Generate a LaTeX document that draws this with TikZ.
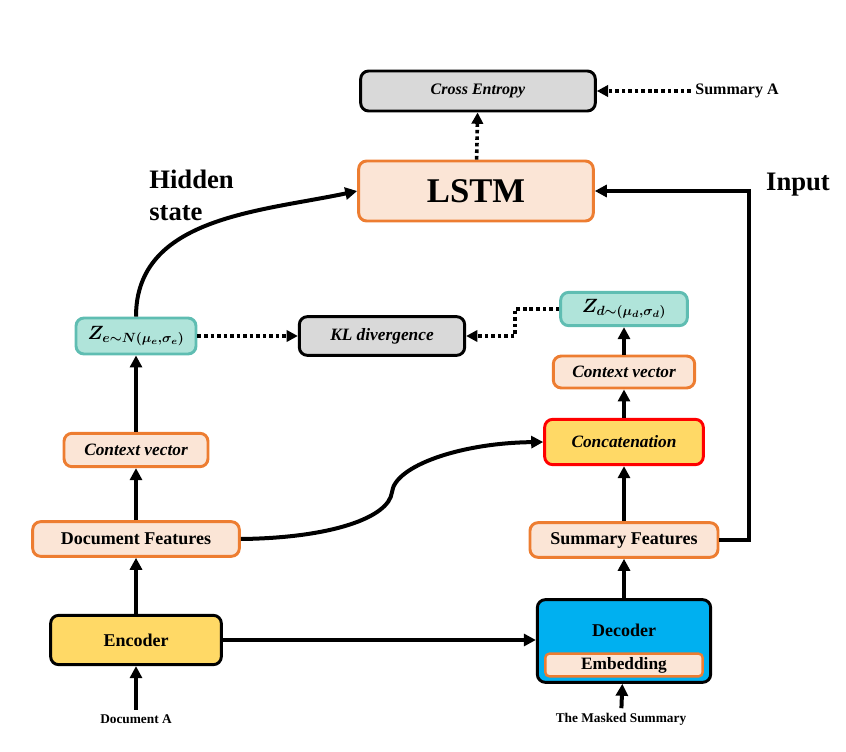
\documentclass[tikz,border=0pt]{standalone}
\usepackage{fontspec}
\setmainfont{Liberation Serif}
\usepackage{amsmath}
\usetikzlibrary{arrows.meta,positioning,calc}

\definecolor{peach}{HTML}{FBE5D6}
\definecolor{orng}{HTML}{ED7D31}
\definecolor{mint}{HTML}{B0E4DA}
\definecolor{tealline}{HTML}{5FBDB2}
\definecolor{lgray}{HTML}{D9D9D9}
\definecolor{gold}{HTML}{FFD966}
\definecolor{sky}{HTML}{00B0F0}

\begin{document}
\begin{tikzpicture}[
  x=0.75pt, y=-0.75pt,
  box/.style={draw, line width=2.2pt, rounded corners=6pt, align=center,
              inner sep=0pt, font=\bfseries\fontsize{13.5}{16}\selectfont},
  itfont/.style={font=\bfseries\itshape\fontsize{13}{16}\selectfont},
  peachbox/.style={box, draw=orng, fill=peach},
  mintbox/.style={box, draw=tealline, fill=mint, font=\boldmath\fontsize{14}{16}\selectfont},
  greybox/.style={box, draw=black, fill=lgray, itfont},
  small/.style={font=\bfseries\fontsize{10}{12}\selectfont},
  big/.style={font=\bfseries\fontsize{20}{24}\selectfont},
  arr/.style={-{Triangle[length=9pt,width=9pt]}, line width=3pt},
  dots/.style={-{Triangle[length=8.5pt,width=8.5pt]}, line width=2.7pt,
               dash pattern=on 2.7pt off 2.2pt}
]
\useasboundingbox (0,0) rectangle (846,752);

% top part
\node[greybox, minimum width=176pt, minimum height=30pt,
      font=\bfseries\itshape\fontsize{12}{14}\selectfont] (ce) at (478,91) {Cross Entropy};
\node[font=\bfseries\fontsize{12}{14}\selectfont] (suma) at (737,91) {Summary A};
\node[peachbox, minimum width=176pt, minimum height=45pt,
      font=\bfseries\fontsize{26}{30}\selectfont] (lstm) at (476,191) {LSTM};
\node[big, align=left, anchor=north west, inner sep=0pt] (hid) at (149,170) {Hidden\\state};
\node[big] (inp) at (798,185) {Input};

% latent variables
\node[mintbox, minimum width=90pt, minimum height=27pt] (ze) at (136,336) {$Z_{e\sim N(\mu_e,\sigma_e)}$};
\node[greybox, minimum width=124pt, minimum height=29pt] (kl) at (382,336) {KL divergence};
\node[mintbox, minimum width=95pt, minimum height=25pt] (zd) at (624,309) {$Z_{d\sim(\mu_d,\sigma_d)}$};

% right column
\node[peachbox, itfont, minimum width=106pt, minimum height=24pt] (cvr) at (624,372) {Context vector};
\node[box, draw=red, fill=gold, itfont, minimum width=119pt, minimum height=34pt] (cat) at (624,442) {Concatenation};
\node[peachbox, minimum width=141pt, minimum height=26pt] (sf) at (624,540) {Summary Features};
\node[box, draw=black, fill=sky, minimum width=130pt, minimum height=62pt] (dec) at (624,641) {};
\node[font=\bfseries\fontsize{13.5}{16}\selectfont] (dectxt) at (624,630) {Decoder};
\node[peachbox, line width=1.8pt, rounded corners=3pt, minimum width=118pt, minimum height=17pt,
      font=\bfseries\fontsize{13}{15}\selectfont] (emb) at (624,665) {Embedding};
\node[small] (masked) at (621,719) {The Masked Summary};

% left column
\node[peachbox, itfont, minimum width=108pt, minimum height=25pt] (cvl) at (136,450) {Context vector};
\node[peachbox, minimum width=155pt, minimum height=26pt] (df) at (136,539) {Document Features};
\node[box, draw=black, fill=gold, minimum width=128pt, minimum height=37pt] (enc) at (136,640) {Encoder};
\node[small] (doca) at (136,719) {Document A};

\coordinate (kink) at (392,492);

% connectors
\draw[arr] (doca) -- (enc);
\draw[arr] (enc) -- (df);
\draw[arr] (df) -- (cvl);
\draw[arr] (cvl) -- (ze);
\draw[arr] (ze.north) to[out=90,in=192] (lstm.west);
\draw[dots] (ze) -- (kl);
\draw[dots] (zd.west) -- ++(-44,0) |- (kl.east);
\draw[arr] (enc.east) -- (dec.west |- enc.east);
\draw[arr] (masked) -- (dec);
\draw[arr] (dec) -- (sf);
\draw[arr] (sf) -- (cat);
\draw[arr] (cat) -- (cvr);
\draw[arr] (cvr) -- (zd);
\draw[arr] (sf.east) -- ++(30,0) |- (lstm.east);
\draw[arr] (df.east) .. controls (330,538) and (389,518) .. (kink)
                     .. controls (395,466) and (460,443) .. (cat.west);
\draw[dots] (lstm) -- (ce);
\draw[dots] (suma) -- (ce);
\end{tikzpicture}
\end{document}
